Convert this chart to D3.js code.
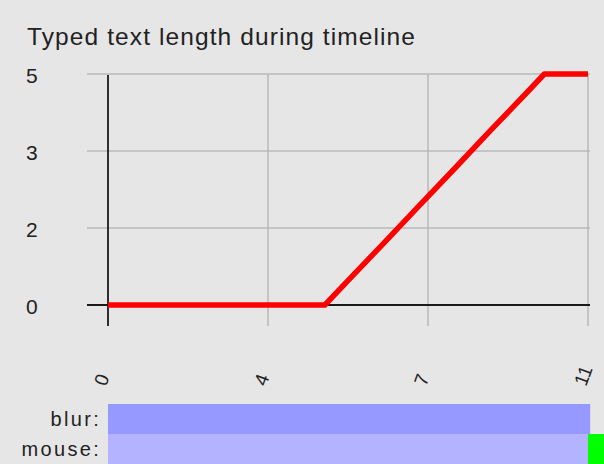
<!DOCTYPE html>
<html>
<head>
<meta charset="utf-8">
<script src="https://cdn.jsdelivr.net/npm/d3@7"></script>
<style>
  html, body { margin: 0; padding: 0; background: #e6e6e6; }
  svg { display: block; font-family: "Liberation Sans", Arial, sans-serif; }
</style>
</head>
<body>
<div id="chart"></div>
<script>
// typed text length sampled over the timeline (seconds)
const times   = [0, 4.97, 5.4, 6.25, 7.1, 7.95, 8.8, 9.6, 10.0, 11];
const lengths = [0, 0, 0.43, 1.27, 2.12, 2.96, 3.81, 4.6, 5, 5];

// event rows under the chart
const rowNames  = ["blur:", "mouse:"];
const rowStarts = [[0], [0, 11.0]];
const rowEnds   = [[11.05], [11.0, 11.4]];
const rowColors = [["#9699ff"], ["#b3b3ff", "#00ff00"]];

const width = 604, height = 464;
const svg = d3.select("#chart").append("svg")
  .attr("width", width).attr("height", height);

svg.append("rect").attr("width", width).attr("height", height).attr("fill", "#e6e6e6");

const x = d3.scaleLinear().domain([0, 11]).range([108, 588]);
const y = d3.scaleLinear().domain([0, 5]).range([305, 74]);

// ticks at thirds of the domain, labelled rounded
const xTicks = d3.range(4).map(i => 11 * i / 3);
const yTicks = d3.range(4).map(i => 5 * i / 3);

svg.append("text")
  .attr("x", 27).attr("y", 45)
  .attr("font-size", 24.5)
  .attr("letter-spacing", 1.1)
  .attr("fill", "#222")
  .text("Typed text length during timeline");

// grid
const grid = svg.append("g").attr("stroke", "#b8b8b8").attr("stroke-width", 1.5);
grid.selectAll("line.h").data(yTicks.filter(d => d > 0)).join("line")
  .attr("x1", 87).attr("x2", x(11) + 2)
  .attr("y1", d => y(d)).attr("y2", d => y(d));
grid.selectAll("line.v").data(xTicks.filter(d => d > 0)).join("line")
  .attr("x1", d => x(d)).attr("x2", d => x(d))
  .attr("y1", y(5)).attr("y2", 326);

// axes
svg.append("line").attr("stroke", "#1a1a1a").attr("stroke-width", 1.8)
  .attr("x1", 87).attr("x2", x(11) + 2).attr("y1", y(0)).attr("y2", y(0));
svg.append("line").attr("stroke", "#1a1a1a").attr("stroke-width", 1.8)
  .attr("x1", x(0)).attr("x2", x(0)).attr("y1", y(5) + 1).attr("y2", 326);

svg.append("g").selectAll("text").data(yTicks).join("text")
  .attr("x", 26).attr("y", d => y(d)).attr("dy", "0.45em")
  .attr("font-size", 21).attr("fill", "#222")
  .text(d => Math.round(d));

svg.append("g").selectAll("text").data(xTicks).join("text")
  .attr("transform", d => `translate(${x(d) - 2},387) rotate(-70)`)
  .attr("font-size", 19).attr("fill", "#222")
  .text(d => Math.round(d));

// the length line
const line = d3.line().x((d, i) => x(times[i])).y(d => y(d));
svg.append("path").datum(lengths)
  .attr("fill", "none").attr("stroke", "#ff0000").attr("stroke-width", 5.5)
  .attr("stroke-linejoin", "round")
  .attr("d", line);

// event rows
const rowH = 30, rowTop = 404;
rowNames.forEach((name, r) => {
  const g = svg.append("g");
  g.append("text")
    .attr("x", 101).attr("y", rowTop + r * rowH + 15).attr("dy", "0.35em")
    .attr("text-anchor", "end").attr("font-size", 20).attr("letter-spacing", 2.3)
    .attr("fill", "#222").text(name);
  g.selectAll("rect").data(rowStarts[r]).join("rect")
    .attr("x", d => x(d))
    .attr("width", (d, i) => x(rowEnds[r][i]) - x(d))
    .attr("y", rowTop + r * rowH).attr("height", rowH)
    .attr("fill", (d, i) => rowColors[r][i]);
});
</script>
</body>
</html>
